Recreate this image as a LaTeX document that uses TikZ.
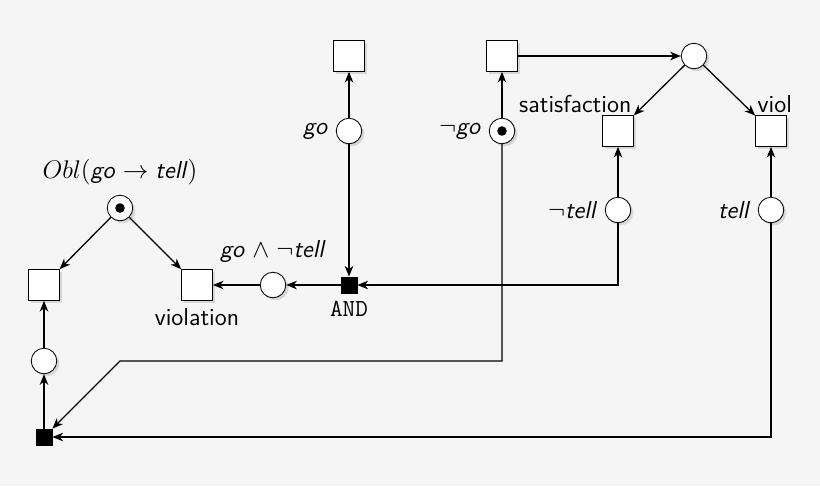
\documentclass[tikz,border=0pt]{standalone}
\usepackage{amsmath}
\usepackage{amssymb}
\usetikzlibrary{shadows,arrows.meta}
\renewcommand{\familydefault}{\sfdefault}
\newcommand{\pv}[1]{\textsf{\itshape #1}}

\tikzset{
  place/.style={circle,draw,fill=white,minimum size=12pt,inner sep=0pt,drop shadow={opacity=0.25,shadow xshift=1.2pt,shadow yshift=-1.2pt}},
  marked/.style={place,label={[inner sep=0pt,fill=black,circle,minimum size=4.5pt]center:}},
  transition/.style={rectangle,draw,fill=white,minimum size=14.5pt,inner sep=0pt,drop shadow={opacity=0.25,shadow xshift=1.2pt,shadow yshift=-1.2pt}},
  gate/.style={rectangle,draw,fill=black,minimum size=7.5pt,inner sep=0pt},
  arc/.style={->,>={Stealth[length=5pt,width=4pt,inset=1.5pt]},semithick}
}

\begin{document}
\begin{tikzpicture}[x=0.47pt,y=-0.47pt,font=\fontsize{11.5}{13}\selectfont]
        \fill [black!4] (0,0) rectangle (820,486);
        \useasboundingbox (0,0) rectangle (820,486);
        % top row
        \node [transition] (tgo) at (349,56) {};
        \node [transition] (tngo) at (502,56) {};
        \node [place] (pcheck) at (694,56) {};
        % places
        \node [place,label=left:\pv{go}] (pgo) at (349,131) {};
        \node [marked,label=left:$\neg$\pv{go}] (pngo) at (502,131) {};
        \node [transition] (tsat) at (618,131) {};
        \node [transition] (tviol) at (771,131) {};
        \node [above left,inner sep=1pt] at (tsat.north east) {satisfaction};
        \begin{scope}
          \clip (700,0) rectangle (790,486);
          \node [above right,inner sep=1pt] at (tviol.north west) {violation};
        \end{scope}
        \node [place,label=left:$\neg$\pv{tell}] (pntell) at (618,210) {};
        \node [place,label=left:\pv{tell}] (ptell) at (771,210) {};
        % obligation part
        \node [marked,label={[yshift=1pt]above:$Obl($\pv{go}$\;\rightarrow\;$\pv{tell}$)$}] (pobl) at (120,208) {};
        \node [transition] (tleft) at (44,285) {};
        \node [transition,label=below:violation] (tvio) at (197,285) {};
        \node [place,label={[yshift=1pt]above:\pv{go}$\;\wedge\;\neg$\pv{tell}}] (pand) at (273,285) {};
        \node [gate,label=below:\texttt{AND}] (and) at (349,285) {};
        \node [place] (pleft) at (44,361) {};
        \node [gate] (gleft) at (44,437) {};
        \coordinate (bend) at (120,361);
        % arcs
        \draw [arc] (pgo) -- (tgo);
        \draw [arc] (pngo) -- (tngo);
        \draw [arc] (tngo) -- (pcheck);
        \draw [arc] (pcheck) -- (tsat);
        \draw [arc] (pcheck) -- (tviol);
        \draw [arc] (pntell) -- (tsat);
        \draw [arc] (ptell) -- (tviol);
        \draw [arc] (pgo) -- (and);
        \draw [arc] (pntell) |- (and);
        \draw [arc] (and) -- (pand);
        \draw [arc] (pand) -- (tvio);
        \draw [arc] (pobl) -- (tleft);
        \draw [arc] (pobl) -- (tvio);
        \draw [arc] (gleft) -- (pleft);
        \draw [arc] (pleft) -- (tleft);
        \draw [arc] (pngo) |- (bend) -- (gleft);
        \draw [arc] (ptell) |- (gleft);
\end{tikzpicture}
\end{document}
